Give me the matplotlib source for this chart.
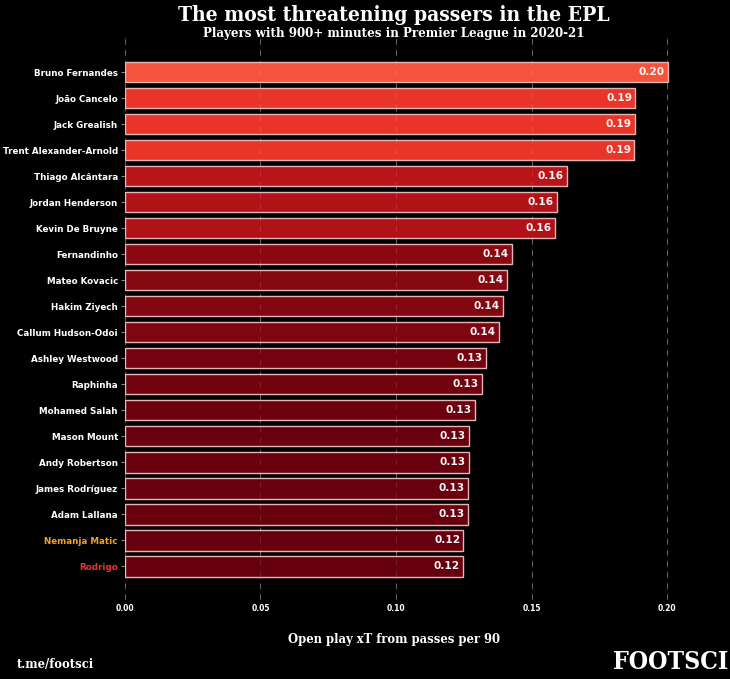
import matplotlib
matplotlib.use("Agg")
import matplotlib.pyplot as plt
import numpy as np

players = ["Bruno Fernandes", "João Cancelo", "Jack Grealish", "Trent Alexander-Arnold",
           "Thiago Alcântara", "Jordan Henderson", "Kevin De Bruyne", "Fernandinho",
           "Mateo Kovacic", "Hakim Ziyech", "Callum Hudson-Odoi", "Ashley Westwood",
           "Raphinha", "Mohamed Salah", "Mason Mount", "Andy Robertson",
           "James Rodríguez", "Adam Lallana", "Nemanja Matic", "Rodrigo"]
xt_values = [0.2002, 0.1883, 0.1882, 0.1879, 0.1632, 0.1595, 0.1585, 0.1427,
             0.1409, 0.1394, 0.1379, 0.1331, 0.1317, 0.1291, 0.1270, 0.1269,
             0.1266, 0.1265, 0.1249, 0.1247]
label_colors = {"Nemanja Matic": "#f0a030", "Rodrigo": "#e8382e"}
x_ticks = [0.0, 0.05, 0.10, 0.15, 0.20]

fig = plt.figure(figsize=(7.30, 6.79), dpi=100, facecolor="black")
ax = fig.add_axes([0.171, 0.116, 0.78, 0.8295])
ax.set_facecolor("black")

vals = np.array(xt_values)
vmin, vmax = vals.min(), vals.max()
frac = ((vals - vmin) / (vmax - vmin)) ** 1.25
cpos = 1.0 - 0.44 * frac
cmap = plt.get_cmap("Reds")
colors = [cmap(c) for c in cpos]

y = np.arange(len(players))
ax.barh(y, vals, height=0.78, color=colors, edgecolor="#e6b4b4", linewidth=1.0, zorder=3)

for yi, v in zip(y, vals):
    ax.text(v - 0.0012, yi, f"{v:.2f}", ha="right", va="center", color="#f4f4f4",
            fontsize=7.6, fontweight="bold", zorder=5)

ax.set_yticks(y)
ax.set_yticklabels(players, fontsize=6.3, fontweight="bold", color="white")
for lbl in ax.get_yticklabels():
    lbl.set_color(label_colors.get(lbl.get_text(), "white"))
ax.set_ylim(len(players) - 1 + 1.3, -1.35)
ax.set_xlim(0, 0.21)
ax.set_xticks(x_ticks)
ax.set_xticklabels([f"{t:.2f}" for t in x_ticks], fontsize=5.5, fontweight="bold", color="white")
ax.tick_params(axis="x", length=0, pad=3)
ax.tick_params(axis="y", length=3, color="#888888", pad=2)
ax.grid(axis="x", color="#777777", linestyle=(0, (5, 5)), linewidth=0.8, alpha=0.7, zorder=0)
ax.vlines(x_ticks, -1.35, len(players) + 0.3, colors="white", linestyles=(0, (5, 5)),
          linewidth=0.8, alpha=0.12, zorder=4)
for s in ax.spines.values():
    s.set_visible(False)

serif = dict(family="DejaVu Serif", fontweight="bold", color="white", fontstretch="condensed")
fig.text(0.54, 0.978, "The most threatening passers in the EPL", ha="center", va="center",
         fontsize=15.1, **serif)
fig.text(0.54, 0.950, "Players with 900+ minutes in Premier League in 2020-21", ha="center",
         va="center", fontsize=9.5, **serif)
fig.text(0.54, 0.058, "Open play xT from passes per 90", ha="center", va="center",
         fontsize=9.3, **serif)
fig.text(0.023, 0.021, "t.me/footsci", ha="left", va="center", fontsize=9.3, **serif)
fig.text(0.997, 0.025, "FOOTSCI", ha="right", va="center", fontsize=17.8, **serif)

fig.savefig("out.png", dpi=100, facecolor="black")
